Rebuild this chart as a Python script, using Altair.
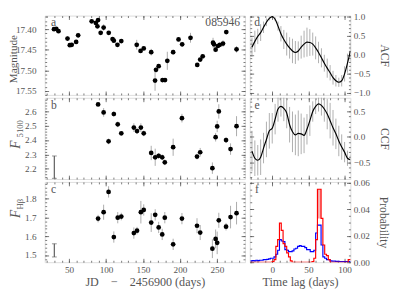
import altair as alt
import pandas as pd

FONT = "Liberation Serif"
TXT = "#555555"
TICKC = "#555555"

# ---------------- data ----------------
day_a = [29.5, 32.6, 35.6, 47.8, 50.9, 53.5, 59.5, 62.2, 80.5, 86.2, 89.2, 88.3, 92.7, 96.7,
         103.6, 108.8, 110.5, 115.4, 120.6, 141.5, 146.7, 151.0, 161.1, 166.3, 167.6, 171.2,
         176.4, 179.8, 182.9, 190.8, 198.1, 203.0, 214.3, 223.4, 227.4, 230.8, 244.8, 246.1,
         248.3, 251.3, 253.9, 258.3, 262.7, 276.6]
mag = [17.400, 17.399, 17.405, 17.423, 17.439, 17.438, 17.431, 17.415, 17.381, 17.385, 17.378,
       17.393, 17.409, 17.396, 17.409, 17.424, 17.428, 17.438, 17.429, 17.438, 17.453, 17.447,
       17.456, 17.525, 17.499, 17.490, 17.524, 17.524, 17.477, 17.456, 17.425, 17.437, 17.421,
       17.487, 17.474, 17.466, 17.433, 17.437, 17.450, 17.441, 17.438, 17.435, 17.407, 17.449]
mag_err = [0.003, 0.004, 0.003, 0.006, 0.004, 0.003, 0.005, 0.006, 0.003, 0.005, 0.004, 0.004,
           0.004, 0.008, 0.004, 0.004, 0.004, 0.004, 0.004, 0.012, 0.004, 0.004, 0.008, 0.025,
           0.006, 0.004, 0.004, 0.004, 0.022, 0.006, 0.004, 0.006, 0.012, 0.004, 0.004, 0.004,
           0.012, 0.008, 0.006, 0.004, 0.004, 0.008, 0.004, 0.008]

day_bc = [89.2, 96.7, 103.4, 110.5, 115.8, 120.6, 137.6, 141.9, 147.1, 151.0, 161.1, 166.5,
          171.2, 176.0, 179.5, 190.8, 202.7, 223.1, 227.4, 243.9, 248.3, 250.4, 252.6, 262.4,
          268.5, 276.6]
f5100 = [2.649, 2.593, 2.391, 2.582, 2.510, 2.447, 2.487, 2.463, 2.487, 2.447, 2.310, 2.280,
         2.290, 2.280, 2.245, 2.350, 2.553, 2.285, 2.315, 2.204, 2.420, 2.495, 2.600, 2.400,
         2.337, 2.497]
f5100_err = [0.01, 0.03, 0.02, 0.02, 0.02, 0.01, 0.03, 0.02, 0.03, 0.02, 0.05, 0.06, 0.02,
             0.02, 0.02, 0.06, 0.03, 0.02, 0.03, 0.04, 0.03, 0.04, 0.05, 0.02, 0.04, 0.07]
fhb = [1.694, 1.728, 1.836, 1.596, 1.699, 1.705, 1.617, 1.630, 1.728, 1.740, 1.673, 1.714,
       1.647, 1.610, 1.699, 1.557, 1.694, 1.656, 1.620, 1.534, 1.586, 1.565, 1.685, 1.651,
       1.702, 1.723]
fhb_err = [0.02, 0.04, 0.03, 0.03, 0.03, 0.02, 0.03, 0.02, 0.06, 0.03, 0.05, 0.03, 0.03,
           0.03, 0.03, 0.03, 0.03, 0.04, 0.04, 0.05, 0.05, 0.06, 0.04, 0.02, 0.06, 0.06]

sys_day = [30.0]
sys_b = [2.133, 2.289]
sys_c = [1.490, 1.560]

lags = [-28, -24, -20, -16, -12, -8, -4, 0, 4, 8, 12, 16, 20, 24, 28, 32, 36, 40, 44, 48, 52,
        56, 60, 64, 68, 72, 76, 80, 84, 88, 92, 96, 100, 104, 108]
acf = [0.20, 0.35, 0.48, 0.58, 0.72, 0.85, 0.95, 1.00, 0.93, 0.75, 0.55, 0.40, 0.28, 0.18,
       0.10, 0.06, 0.10, 0.20, 0.28, 0.33, 0.32, 0.28, 0.18, 0.06, -0.08, -0.22, -0.35, -0.47,
       -0.60, -0.68, -0.72, -0.68, -0.50, -0.22, 0.10]
acf_err = [0.25, 0.28, 0.20, 0.22, 0.15, 0.10, 0.05, 0.0, 0.05, 0.12, 0.20, 0.25, 0.30, 0.28,
           0.32, 0.30, 0.25, 0.30, 0.35, 0.38, 0.35, 0.30, 0.30, 0.28, 0.25, 0.22, 0.25, 0.20,
           0.18, 0.15, 0.12, 0.15, 0.20, 0.25, 0.30]
ccf = [-0.28, -0.42, -0.46, -0.40, -0.22, -0.05, 0.12, 0.17, 0.35, 0.55, 0.60, 0.56, 0.47,
       0.24, 0.10, 0.04, 0.07, 0.06, 0.03, 0.15, 0.32, 0.50, 0.60, 0.65, 0.62, 0.55, 0.45, 0.32,
       0.18, 0.06, -0.08, -0.20, -0.30, -0.42, -0.45]
ccf_err = [0.40, 0.35, 0.30, 0.35, 0.30, 0.35, 0.35, 0.30, 0.30, 0.25, 0.20, 0.25, 0.30, 0.35,
           0.40, 0.40, 0.45, 0.40, 0.35, 0.30, 0.30, 0.20, 0.15, 0.15, 0.20, 0.25, 0.30, 0.35,
           0.35, 0.30, 0.30, 0.25, 0.20, 0.15, 0.10]

bins = [-30, -27.5, -25, -22.5, -20, -17.5, -15, -12.5, -10, -7.5, -5, -2.5, 0, 2.5, 5, 7.5,
        10, 12.5, 15, 17.5, 20, 22.5, 25, 27.5, 30, 32.5, 35, 37.5, 40, 42.5, 45, 47.5, 50,
        52.5, 55, 57.5, 60, 62.5, 65, 67.5, 70, 72.5, 75, 77.5, 80, 82.5, 85, 87.5, 90, 92.5,
        95, 97.5, 100, 102.5, 105, 107.5]
p_red = [0, 0, 0, 0, 0, 0, 0, 0, 0, 0, 0, 0, 0.0005, 0.002, 0.012, 0.017, 0.0295, 0.024,
         0.014, 0.012, 0.007, 0.004, 0.001, 0, 0, 0, 0, 0, 0, 0, 0, 0, 0, 0, 0.0005, 0.003,
         0.017, 0.055, 0.055, 0.033, 0.013, 0.006, 0.005, 0.002, 0, 0, 0, 0, 0, 0, 0, 0, 0, 0,
         0.002, 0.002]
p_blue = [0.001, 0.0012, 0.001, 0.0015, 0.0012, 0.0015, 0.0015, 0.002, 0.002, 0.0022, 0.0025,
          0.003, 0.003, 0.004, 0.006, 0.009, 0.017, 0.016, 0.0155, 0.0095, 0.009, 0.008, 0.008,
          0.0085, 0.010, 0.0105, 0.012, 0.0125, 0.012, 0.012, 0.011, 0.0095, 0.0095, 0.008,
          0.008, 0.009, 0.022, 0.028, 0.028, 0.013, 0.004, 0.003, 0.002, 0.002, 0.001, 0.0008,
          0.0008, 0.0006, 0.0006, 0.0005, 0.0005, 0.0005, 0.0004, 0.0004, 0.0004, 0.0004]
BIN_W = 2.5
SPIKE_MIN = 0.05      # bins taller than this get the pale fill seen in the reference
SPIKE_BASE = 0.033

# ---------------- helpers ----------------
WL, WR = 207, 104
HA, HB, HC = 82, 84, 83

XL = dict(domain=[17, 288], nice=False, zero=False)
XR = dict(domain=[-31, 108], nice=False, zero=False)
XL_MAJ = [50, 100, 150, 200, 250]
XL_MIN = list(range(20, 290, 10))
XR_MAJ = [0, 50, 100]
XR_MIN = list(range(-30, 110, 10))


def mkaxis(orient, values, size, labels=False, fmt=None, pad=3, title=None, tsize=12, tpad=3):
    kw = dict(orient=orient, values=values, tickSize=size, offset=-size, domain=False,
              grid=False, ticks=True, tickColor=TICKC, tickWidth=0.8, labels=labels,
              title=title, minExtent=0)
    if labels:
        kw.update(labelFont=FONT, labelFontSize=9.5, labelColor=TXT, labelPadding=pad,
                  labelOverlap=False, labelFlush=False)
    if fmt:
        kw["format"] = fmt
    if title:
        kw.update(titleFont=FONT, titleFontSize=tsize, titleColor=TXT, titlePadding=tpad,
                  titleFontWeight="normal")
    return alt.Axis(**kw)


def txt(t, x, y, size=12, align="center", baseline="alphabetic", angle=0, style="normal"):
    return alt.Chart(pd.DataFrame({"t": [t]})).mark_text(
        font=FONT, fontSize=size, color=TXT, align=align, baseline=baseline, angle=angle,
        fontStyle=style).encode(text="t:N", x=alt.value(x), y=alt.value(y))


def tick_layers(df, xf, yf, xsc, ysc, xmaj, xmin, ymaj, ymin):
    out = []
    for (xo, xv, xs), (yo, yv, ys) in [(("top", xmaj, 4), ("right", ymaj, 4)),
                                       (("bottom", xmin, 2), ("left", ymin, 2)),
                                       (("top", xmin, 2), ("right", ymin, 2))]:
        out.append(alt.Chart(df).mark_point(opacity=0).encode(
            x=alt.X(xf, scale=alt.Scale(**xsc), axis=mkaxis(xo, xv, xs)),
            y=alt.Y(yf, scale=alt.Scale(**ysc), axis=mkaxis(yo, yv, ys))))
    return out


def left_panel(df, yf, ysc, ymaj, ymin, yfmt, h, xlabels, texts, extra=()):
    xt = "JD\u2003\u2212\u20032456900 (days)" if xlabels else None
    err = alt.Chart(df).mark_rule(color="#aaaaaa", strokeWidth=1, clip=True).encode(
        x=alt.X("day:Q", scale=alt.Scale(**XL),
                axis=mkaxis("bottom", XL_MAJ, 4, labels=xlabels, fmt="d", pad=3, title=xt,
                            tsize=12.5, tpad=2)),
        y=alt.Y("lo:Q", scale=alt.Scale(**ysc),
                axis=mkaxis("left", ymaj, 4, labels=True, fmt=yfmt, pad=9)),
        y2="hi:Q")
    pts = alt.Chart(df).mark_circle(size=24, color="black", opacity=1).encode(
        x=alt.X("day:Q", scale=alt.Scale(**XL), axis=None),
        y=alt.Y(yf, scale=alt.Scale(**ysc), axis=None))
    layers = [err, pts] + list(extra)
    layers += tick_layers(df, "day:Q", yf, XL, ysc, XL_MAJ, XL_MIN, ymaj, ymin)
    layers += texts
    return alt.layer(*layers).resolve_axis(x="independent", y="independent").properties(
        width=WL, height=h)


def sys_layers(lo, hi, ysc):
    d = pd.DataFrame({"day": sys_day * 2, "v": [lo, hi], "lo": [lo, lo], "hi": [hi, hi]})
    r = alt.Chart(d).mark_rule(color="#666666", strokeWidth=1).encode(
        x=alt.X("day:Q", scale=alt.Scale(**XL), axis=None),
        y=alt.Y("lo:Q", scale=alt.Scale(**ysc), axis=None), y2="hi:Q")
    c = alt.Chart(d).mark_tick(color="#666666", thickness=1, size=5, orient="horizontal").encode(
        x=alt.X("day:Q", scale=alt.Scale(**XL), axis=None),
        y=alt.Y("v:Q", scale=alt.Scale(**ysc), axis=None))
    return [r, c]


def right_panel(df, yf, ysc, ymaj, ymin, yfmt, h, title, xlabels, main_layers, texts, tpad=8):
    xt = "Time lag (days)" if xlabels else None
    carrier = alt.Chart(df).mark_point(opacity=0).encode(
        x=alt.X("lag:Q", scale=alt.Scale(**XR),
                axis=mkaxis("bottom", XR_MAJ, 4, labels=xlabels, fmt="d", pad=3, title=xt,
                            tsize=12.5, tpad=2)),
        y=alt.Y(yf, scale=alt.Scale(**ysc),
                axis=mkaxis("right", ymaj, 4, labels=True, fmt=yfmt, pad=3, title=title,
                            tsize=12, tpad=tpad)))
    t2 = alt.Chart(df).mark_point(opacity=0).encode(
        x=alt.X("lag:Q", scale=alt.Scale(**XR), axis=mkaxis("top", XR_MAJ, 4)),
        y=alt.Y(yf, scale=alt.Scale(**ysc), axis=mkaxis("left", ymaj, 4)))
    t3 = alt.Chart(df).mark_point(opacity=0).encode(
        x=alt.X("lag:Q", scale=alt.Scale(**XR), axis=mkaxis("bottom", XR_MIN, 2)),
        y=alt.Y(yf, scale=alt.Scale(**ysc), axis=mkaxis("left", ymin, 2)))
    t4 = alt.Chart(df).mark_point(opacity=0).encode(
        x=alt.X("lag:Q", scale=alt.Scale(**XR), axis=mkaxis("top", XR_MIN, 2)),
        y=alt.Y(yf, scale=alt.Scale(**ysc), axis=mkaxis("right", ymin, 2)))
    layers = list(main_layers) + [carrier, t2, t3, t4] + texts
    return alt.layer(*layers).resolve_axis(x="independent", y="independent").properties(
        width=WR, height=h)


# ---------------- panel a ----------------
dfa = pd.DataFrame({"day": day_a, "mag": mag})
dfa["lo"] = dfa["mag"] - pd.Series(mag_err)
dfa["hi"] = dfa["mag"] + pd.Series(mag_err)
ysa = dict(domain=[17.367, 17.56], nice=False, zero=False, reverse=True)
pa = left_panel(dfa, "mag:Q", ysa, [17.40, 17.45, 17.50, 17.55],
                [round(17.37 + 0.01 * i, 2) for i in range(20)], ".2f", HA, False,
                [txt("a", 9, 10.5), txt("085946", 202, 10.5, align="right"),
                 txt("Magnitude", -31.5, 45, size=11.5, baseline="middle", angle=270)])

# ---------------- panel b ----------------
dfb = pd.DataFrame({"day": day_bc, "f": f5100})
dfb["lo"] = dfb["f"] - pd.Series(f5100_err)
dfb["hi"] = dfb["f"] + pd.Series(f5100_err)
ysb = dict(domain=[2.128, 2.695], nice=False, zero=False)
pb = left_panel(dfb, "f:Q", ysb, [2.2, 2.3, 2.4, 2.5, 2.6],
                [round(2.14 + 0.02 * i, 2) for i in range(28)], ".1f", HB, False,
                [txt("b", 9.5, 12),
                 txt("F", -30, 48.5, size=14, baseline="middle", angle=270, style="italic"),
                 txt("5100", -25, 32, size=9, baseline="middle", angle=270)],
                extra=sys_layers(sys_b[0], sys_b[1], ysb))

# ---------------- panel c ----------------
dfc = pd.DataFrame({"day": day_bc, "f": fhb})
dfc["lo"] = dfc["f"] - pd.Series(fhb_err)
dfc["hi"] = dfc["f"] + pd.Series(fhb_err)
ysc = dict(domain=[1.462, 1.889], nice=False, zero=False)
pc = left_panel(dfc, "f:Q", ysc, [1.5, 1.6, 1.7, 1.8],
                [round(1.48 + 0.02 * i, 2) for i in range(21)], ".1f", HC, True,
                [txt("c", 9, 11.5),
                 txt("F", -30, 33, size=14, baseline="middle", angle=270, style="italic"),
                 txt("H\u03b2", -25, 23, size=9, baseline="middle", angle=270)],
                extra=sys_layers(sys_c[0], sys_c[1], ysc))


def curve_layers(df, ys):
    e = alt.Chart(df).mark_rule(color="#999999", strokeWidth=0.8, clip=True).encode(
        x=alt.X("lag:Q", scale=alt.Scale(**XR), axis=None),
        y=alt.Y("lo:Q", scale=alt.Scale(**ys), axis=None), y2="hi:Q")
    l = alt.Chart(df).mark_line(color="black", strokeWidth=1.2, interpolate="monotone",
                                clip=True).encode(
        x=alt.X("lag:Q", scale=alt.Scale(**XR), axis=None),
        y=alt.Y("v:Q", scale=alt.Scale(**ys), axis=None))
    return [e, l]


# ---------------- panel d (ACF) ----------------
dfd = pd.DataFrame({"lag": lags, "v": acf})
dfd["lo"] = dfd["v"] - pd.Series(acf_err)
dfd["hi"] = dfd["v"] + pd.Series(acf_err)
ysd = dict(domain=[-1.05, 1.025], nice=False, zero=False)
pdd = right_panel(dfd, "v:Q", ysd, [-1.0, -0.5, 0.0, 0.5, 1.0],
                  [round(-1.0 + 0.1 * i, 1) for i in range(21)], ".1f", HA, "ACF", False,
                  curve_layers(dfd, ysd), [txt("d", 7.5, 10.5)])

# ---------------- panel e (CCF) ----------------
dfe = pd.DataFrame({"lag": lags, "v": ccf})
dfe["lo"] = dfe["v"] - pd.Series(ccf_err)
dfe["hi"] = dfe["v"] + pd.Series(ccf_err)
yse = dict(domain=[-0.83, 0.77], nice=False, zero=False)
pe = right_panel(dfe, "v:Q", yse, [-0.5, 0.0, 0.5],
                 [round(-0.8 + 0.1 * i, 1) for i in range(16)], ".1f", HB, "CCF", False,
                 curve_layers(dfe, yse), [txt("e", 7.5, 12)])

# ---------------- panel f (histograms) ----------------
dff = pd.DataFrame({"lag": bins + [bins[-1] + BIN_W], "red": p_red + [p_red[-1]],
                    "blue": p_blue + [p_blue[-1]]})
spike = pd.DataFrame({"lag": bins, "red": p_red})
spike = spike[spike["red"] > SPIKE_MIN].copy()
spike["lag2"] = spike["lag"] + BIN_W
spike["base"] = SPIKE_BASE
ysf = dict(domain=[0, 0.0605], nice=False, zero=False)
hist = [
    alt.Chart(spike).mark_rect(color="#f4a3a3").encode(
        x=alt.X("lag:Q", scale=alt.Scale(**XR), axis=None), x2="lag2:Q",
        y=alt.Y("red:Q", scale=alt.Scale(**ysf), axis=None), y2="base:Q"),
    alt.Chart(dff).mark_line(color="#0000ff", strokeWidth=1.2, interpolate="step-after",
                             clip=True).encode(
        x=alt.X("lag:Q", scale=alt.Scale(**XR), axis=None),
        y=alt.Y("blue:Q", scale=alt.Scale(**ysf), axis=None)),
    alt.Chart(dff).mark_line(color="#ff0000", strokeWidth=1.2, interpolate="step-after",
                             clip=True).encode(
        x=alt.X("lag:Q", scale=alt.Scale(**XR), axis=None),
        y=alt.Y("red:Q", scale=alt.Scale(**ysf), axis=None)),
]
pf = right_panel(dff, "red:Q", ysf, [0.0, 0.02, 0.04, 0.06],
                 [round(0.005 * i, 3) for i in range(13)], ".2f", HC, "Probability", True,
                 hist, [txt("f", 7.5, 11.5)])

chart = alt.concat(pa, pdd, pb, pe, pc, pf, columns=2, spacing={"row": 3, "column": 5},
                   bounds="flush", align="each").properties(
    padding={"left": 0, "top": -2, "right": 0, "bottom": 0}
).configure_view(stroke="#555555", strokeWidth=1.3).configure(background="white")

chart.save("out.html", embed_options={"renderer": "svg", "actions": False})
